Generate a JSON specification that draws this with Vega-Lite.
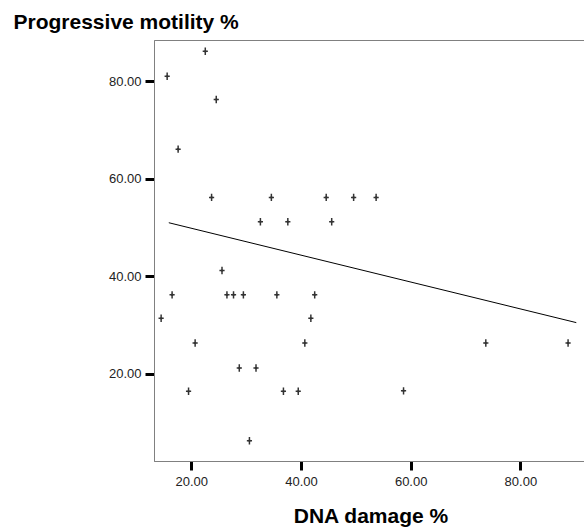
{
  "$schema": "https://vega.github.io/schema/vega-lite/v6.json",
  "autosize": {"type": "none"},
  "padding": {"left": 154, "top": 40, "right": 0, "bottom": 70},
  "width": 433,
  "height": 421,
  "background": "white",
  "config": {
    "view": {"stroke": "#808080", "strokeWidth": 1},
    "font": "Liberation Sans"
  },
  "datasets": {
    "points": [
      {"dna": 22.55, "motility": 86.2},
      {"dna": 15.6, "motility": 81.05},
      {"dna": 24.55, "motility": 76.3},
      {"dna": 17.6, "motility": 66.1},
      {"dna": 23.7, "motility": 56.2},
      {"dna": 34.6, "motility": 56.2},
      {"dna": 44.6, "motility": 56.2},
      {"dna": 49.6, "motility": 56.2},
      {"dna": 53.7, "motility": 56.2},
      {"dna": 32.6, "motility": 51.2},
      {"dna": 37.6, "motility": 51.2},
      {"dna": 45.6, "motility": 51.2},
      {"dna": 25.6, "motility": 41.2},
      {"dna": 16.5, "motility": 36.2},
      {"dna": 26.5, "motility": 36.2},
      {"dna": 27.7, "motility": 36.2},
      {"dna": 29.5, "motility": 36.2},
      {"dna": 35.6, "motility": 36.2},
      {"dna": 42.5, "motility": 36.2},
      {"dna": 14.5, "motility": 31.4},
      {"dna": 41.8, "motility": 31.4},
      {"dna": 20.7, "motility": 26.3},
      {"dna": 40.7, "motility": 26.3},
      {"dna": 73.7, "motility": 26.3},
      {"dna": 88.7, "motility": 26.3},
      {"dna": 28.75, "motility": 21.2},
      {"dna": 31.8, "motility": 21.2},
      {"dna": 19.5, "motility": 16.4},
      {"dna": 36.8, "motility": 16.4},
      {"dna": 39.5, "motility": 16.4},
      {"dna": 58.7, "motility": 16.5},
      {"dna": 30.6, "motility": 6.25}
    ],
    "fit": [
      {"dna": 15.9, "motility": 51.0},
      {"dna": 90.2, "motility": 30.5}
    ]
  },
  "layer": [
    {
      "data": {"name": "fit"},
      "mark": {"type": "line", "color": "#000000", "strokeWidth": 1},
      "encoding": {
        "x": {"field": "dna", "type": "quantitative"},
        "y": {"field": "motility", "type": "quantitative"}
      }
    },
    {
      "data": {"name": "points"},
      "mark": {
        "type": "point",
        "filled": true,
        "color": "#333333",
        "opacity": 1,
        "size": 55,
        "shape": "M-0.2,-1H0.2V-0.2H0.7V0.2H0.2V1H-0.2V0.2H-0.7V-0.2H-0.2Z M0,-0.55L0.5,0L0,0.55L-0.5,0Z"
      },
      "encoding": {
        "x": {
          "field": "dna",
          "type": "quantitative",
          "scale": {"domain": [13.2, 92.15], "nice": false, "zero": false},
          "axis": {
            "title": "DNA damage %",
            "titleFontSize": 21,
            "titleFontWeight": "bold",
            "titleColor": "#000000",
            "titleBaseline": "alphabetic",
            "titleY": 61,
            "values": [20, 40, 60, 80],
            "format": ".2f",
            "grid": false,
            "domainColor": "#808080",
            "domainWidth": 1,
            "tickColor": "#000000",
            "tickWidth": 3,
            "tickSize": 9,
            "labelFontSize": 13,
            "labelColor": "#222222",
            "labelPadding": 5
          }
        },
        "y": {
          "field": "motility",
          "type": "quantitative",
          "scale": {"domain": [2.1, 88.5], "nice": false, "zero": false},
          "axis": {
            "title": "Progressive motility %",
            "titleFontSize": 21,
            "titleFontWeight": "bold",
            "titleColor": "#000000",
            "titleAngle": 0,
            "titleAlign": "left",
            "titleBaseline": "alphabetic",
            "titleX": -141,
            "titleY": -12,
            "values": [20, 40, 60, 80],
            "format": ".2f",
            "grid": false,
            "domainColor": "#808080",
            "domainWidth": 1,
            "tickColor": "#000000",
            "tickWidth": 3,
            "tickSize": 9,
            "labelFontSize": 13,
            "labelColor": "#222222",
            "labelPadding": 4
          }
        }
      }
    }
  ]
}
